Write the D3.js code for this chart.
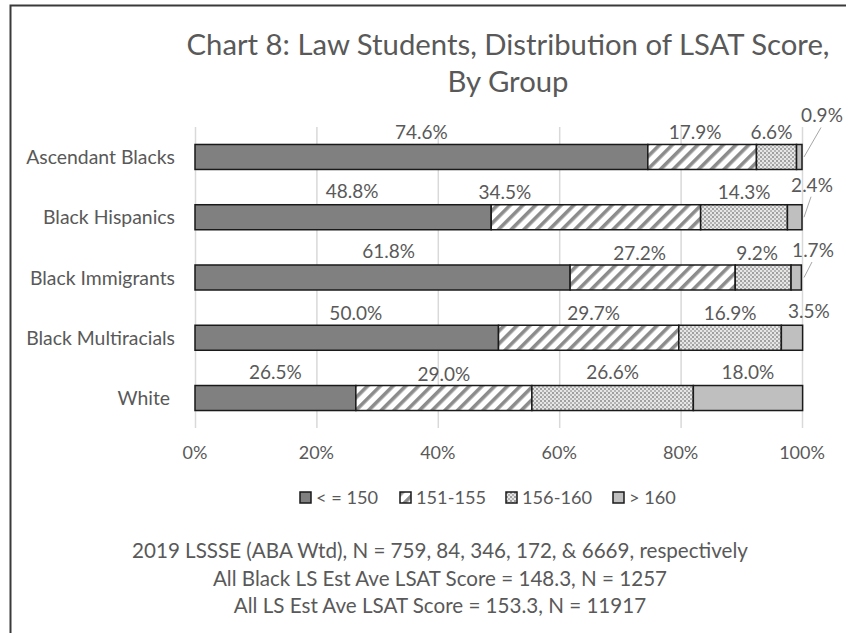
<!DOCTYPE html>
<html>
<head>
<meta charset="utf-8">
<script src="https://cdn.jsdelivr.net/npm/d3@7"></script>
<style>
  body { margin: 0; background: #fff; }
  text { font-family: Lato, "Open Sans", sans-serif; fill: #595959; }
</style>
</head>
<body>
<div id="chart"></div>
<script>
// les donnees du graphique
const groups = ["Ascendant Blacks", "Black Hispanics", "Black Immigrants", "Black Multiracials", "White"];
const seriesNames = ["< = 150", "151-155", "156-160", "> 160"];
const le150 = [74.6, 48.8, 61.8, 50.0, 26.5];
const s151 = [17.9, 34.5, 27.2, 29.7, 29.0];
const s156 = [6.6, 14.3, 9.2, 16.9, 26.6];
const gt160 = [0.9, 2.4, 1.7, 3.5, 18.0];
const xTicks = [0, 20, 40, 60, 80, 100];
const titleLines = ["Chart 8: Law Students, Distribution of LSAT Score,", "By Group"];
const footLines = [
    "2019 LSSSE (ABA Wtd), N = 759, 84, 346, 172, & 6669, respectively",
    "All Black LS Est Ave LSAT Score = 148.3, N = 1257",
    "All LS Est Ave LSAT Score = 153.3, N = 11917"
];

const width = 846, height = 633;
const plot = { left: 195, right: 802, top: 127, bottom: 428 };

// petits deplacements des etiquettes (comme dans le fichier excel d'origine)
const nudge = {
    "0-1": [-7, 0], "0-2": [-5, 0],
    "1-0": [9, -2], "1-1": [-91, -1], "1-2": [0, -1],
    "2-0": [6, -2], "2-1": [-13, 0], "2-2": [-6, 0],
    "3-0": [9, 0], "3-1": [5, 0], "3-3": [17, -2],
    "4-0": [0, -2], "4-2": [0, -2], "4-3": [0, -2]
};
// etiquettes deportees avec un trait
const callouts = { "0-3": [20, -22], "1-3": [10, -13], "2-3": [11, -8] };

const svg = d3.select("#chart").append("svg")
    .attr("width", width)
    .attr("height", height);

// cadre
svg.append("path")
    .attr("d", `M10.5,${height} V5.5 H${width}`)
    .attr("fill", "none")
    .attr("stroke", "#3a3a3a")
    .attr("stroke-width", 2);

// motifs
const defs = svg.append("defs");
const hatch = defs.append("pattern")
    .attr("id", "hatch")
    .attr("patternUnits", "userSpaceOnUse")
    .attr("width", 9).attr("height", 9)
    .attr("patternTransform", "rotate(45)");
hatch.append("rect").attr("width", 9).attr("height", 9).attr("fill", "#fff");
hatch.append("rect").attr("width", 3.6).attr("height", 9).attr("fill", "#8c8c8c");

const dots = defs.append("pattern")
    .attr("id", "dots")
    .attr("patternUnits", "userSpaceOnUse")
    .attr("width", 4).attr("height", 4);
dots.append("rect").attr("width", 4).attr("height", 4).attr("fill", "#e6e6e6");
dots.append("rect").attr("x", 0).attr("y", 0).attr("width", 2).attr("height", 2).attr("fill", "#a0a0a0");
dots.append("rect").attr("x", 2).attr("y", 2).attr("width", 2).attr("height", 2).attr("fill", "#b4b4b4");

const fills = ["#808080", "url(#hatch)", "url(#dots)", "#bfbfbf"];

const x = d3.scaleLinear().domain([0, 100]).range([plot.left, plot.right]);
const y = d3.scaleBand()
    .domain(groups)
    .range([plot.top, plot.bottom])
    .paddingInner(0.585)
    .paddingOuter(0.29);

// grille verticale
svg.append("g")
    .selectAll("line")
    .data(xTicks)
    .join("line")
    .attr("x1", d => x(d) + 0.5).attr("x2", d => x(d) + 0.5)
    .attr("y1", plot.top).attr("y2", plot.bottom)
    .attr("stroke", "#d9d9d9")
    .attr("stroke-width", 1.5);

// empilement
const rows = groups.map((g, i) => ({ group: g, le150: le150[i], s151: s151[i], s156: s156[i], gt160: gt160[i] }));
const keys = ["le150", "s151", "s156", "gt160"];
const stacked = d3.stack().keys(keys)(rows);

const layers = svg.append("g")
    .selectAll("g")
    .data(stacked)
    .join("g")
    .attr("fill", (d, i) => fills[i]);

layers.selectAll("rect")
    .data(d => d)
    .join("rect")
    .attr("x", d => x(d[0]))
    .attr("y", d => y(d.data.group))
    .attr("width", d => x(d[1]) - x(d[0]))
    .attr("height", y.bandwidth())
    .attr("stroke", "#1a1a1a")
    .attr("stroke-width", 1.5);

// etiquettes de valeurs
const labels = [];
stacked.forEach((layer, k) => {
    layer.forEach((d, i) => {
        const id = i + "-" + k;
        const top = y(d.data.group);
        if (callouts[id]) {
            const c = callouts[id];
            labels.push({ text: d.data[keys[k]].toFixed(1) + "%", x: x(100) + c[0], y: top + c[1], line: true, top: top });
        } else {
            const n = nudge[id] || [0, 0];
            labels.push({ text: d.data[keys[k]].toFixed(1) + "%", x: (x(d[0]) + x(d[1])) / 2 + n[0], y: top - 5 + n[1], line: false, top: top });
        }
    });
});

svg.append("g")
    .selectAll("line")
    .data(labels.filter(l => l.line))
    .join("line")
    .attr("x1", x(100) + 2)
    .attr("y1", l => l.top + y.bandwidth() / 2)
    .attr("x2", l => l.x - 1)
    .attr("y2", l => l.y + 5)
    .attr("stroke", "#a6a6a6")
    .attr("stroke-width", 1);

svg.append("g")
    .selectAll("text")
    .data(labels)
    .join("text")
    .attr("x", l => l.x)
    .attr("y", l => l.y)
    .attr("text-anchor", "middle")
    .style("font-size", "19px")
    .text(l => l.text);

// noms des groupes
svg.append("g")
    .selectAll("text")
    .data(groups)
    .join("text")
    .attr("x", 175)
    .attr("y", d => y(d) + y.bandwidth() / 2 + 7)
    .attr("text-anchor", "end")
    .style("font-size", "19.4px")
    .text(d => d === "White" ? "White " : d)
    .attr("xml:space", "preserve");

// axe x
svg.append("g")
    .selectAll("text")
    .data(xTicks)
    .join("text")
    .attr("x", d => x(d))
    .attr("y", 459)
    .attr("text-anchor", "middle")
    .style("font-size", "18px")
    .text(d => d + "%");

// titre
svg.append("g")
    .selectAll("text")
    .data(titleLines)
    .join("text")
    .attr("x", 508)
    .attr("y", (d, i) => 55 + i * 37)
    .attr("text-anchor", "middle")
    .style("font-size", "29.3px")
    .style("font-weight", 400)
    .text(d => d);

// legende
const legendX = [300, 400, 506, 613];
const legend = svg.append("g")
    .selectAll("g")
    .data(seriesNames)
    .join("g")
    .attr("transform", (d, i) => `translate(${legendX[i]}, 492)`);
legend.append("rect")
    .attr("width", 11).attr("height", 11)
    .attr("fill", (d, i) => fills[i])
    .attr("stroke", "#1a1a1a")
    .attr("stroke-width", 1.5);
legend.append("text")
    .attr("x", 16)
    .attr("y", 12)
    .style("font-size", "18.2px")
    .text(d => d);

// notes
svg.append("g")
    .selectAll("text")
    .data(footLines)
    .join("text")
    .attr("x", 440)
    .attr("y", (d, i) => 558 + i * 27.5)
    .attr("text-anchor", "middle")
    .style("font-size", "20.6px")
    .text(d => d);
</script>
</body>
</html>
